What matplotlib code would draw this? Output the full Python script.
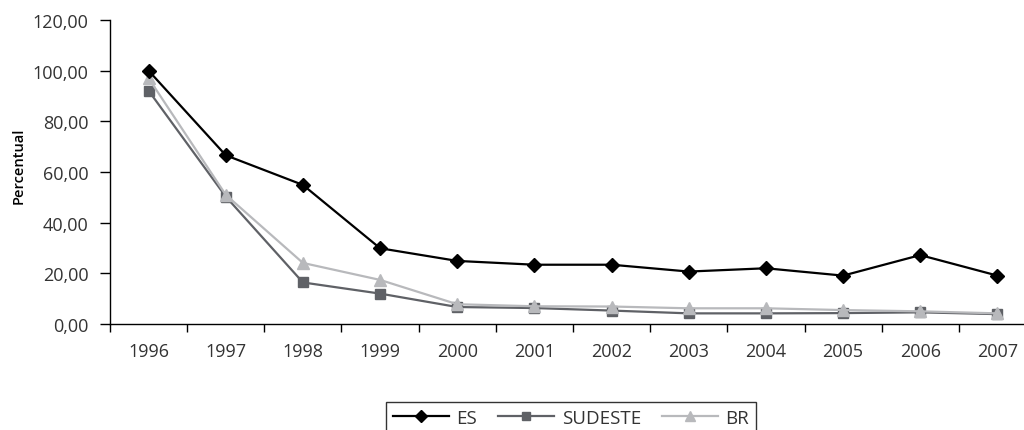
import matplotlib
matplotlib.use("Agg")
import matplotlib.pyplot as plt
from matplotlib.ticker import FixedLocator, FuncFormatter

plt.rcParams['font.family'] = ['Open Sans', 'DejaVu Sans']

years = ['1996', '1997', '1998', '1999', '2000', '2001', '2002',
         '2003', '2004', '2005', '2006', '2007']
es = [100.0, 66.6, 54.9, 29.9, 24.9, 23.4, 23.4, 20.7, 22.0, 19.1, 27.2, 19.1]
sudeste = [92.1, 50.3, 16.4, 12.0, 6.7, 6.3, 5.3, 4.2, 4.2, 4.3, 4.6, 3.9]
br = [97.0, 51.0, 24.1, 17.4, 7.8, 7.0, 6.9, 6.2, 6.2, 5.5, 5.0, 4.2]
y_ticks = [0, 20, 40, 60, 80, 100, 120]

fig = plt.figure(figsize=(10.24, 4.31), dpi=100)
ax = fig.add_axes([110 / 1024, 106 / 431, 926 / 1024, 304 / 431])

x = list(range(len(years)))
ax.plot(x, es, color='black', lw=1.6, marker='D', markersize=7.5,
        markerfacecolor='black', markeredgecolor='black', label='ES', zorder=4)
ax.plot(x, sudeste, color='#5f6166', lw=1.6, marker='s', markersize=7.5,
        markerfacecolor='#5f6166', markeredgecolor='#5f6166', label='SUDESTE', zorder=2)
ax.plot(x, br, color='#b8b9bc', lw=1.6, marker='^', markersize=9,
        markerfacecolor='#b8b9bc', markeredgecolor='#b8b9bc', label='BR', zorder=3)

ax.set_xlim(-0.5, len(years) - 0.5)
ax.set_ylim(0, 120)

# y axis
ax.yaxis.set_major_locator(FixedLocator(y_ticks))
ax.yaxis.set_major_formatter(FuncFormatter(lambda v, p: f"{v:.2f}".replace('.', ',')))
ax.tick_params(axis='y', which='major', direction='out', length=7, width=1,
               pad=8.5, labelsize=13, colors='black', labelcolor='#333333')

# x axis: ticks between categories, labels at category centres
ax.xaxis.set_major_locator(FixedLocator([i - 0.5 for i in range(len(years) + 1)]))
ax.xaxis.set_major_formatter(FuncFormatter(lambda v, p: ''))
ax.set_xticks(x, minor=True)
ax.set_xticklabels(years, minor=True)
ax.tick_params(axis='x', which='major', direction='out', length=6, width=1)
ax.tick_params(axis='x', which='minor', length=0, pad=13, labelsize=13,
               labelcolor='#333333')

for s in ['top', 'right']:
    ax.spines[s].set_visible(False)
for s in ['left', 'bottom']:
    ax.spines[s].set_linewidth(1)
    ax.spines[s].set_color('black')

fig.text(19 / 1024, 1 - 166 / 431, 'Percentual', rotation=90, ha='center',
         va='center', fontsize=10.5, fontweight='semibold', color='black')

leg = fig.legend(loc='upper center', bbox_to_anchor=(571 / 1024, 1 - 394 / 431),
                 ncol=3, frameon=True, fancybox=False, edgecolor='black',
                 fontsize=13.5, handlelength=3.0, columnspacing=1.1,
                 handletextpad=0.4, borderpad=0.35, markerscale=0.8)
leg.get_frame().set_linewidth(1)
for t in leg.get_texts():
    t.set_color('#333333')

fig.savefig('out.png', dpi=100)
